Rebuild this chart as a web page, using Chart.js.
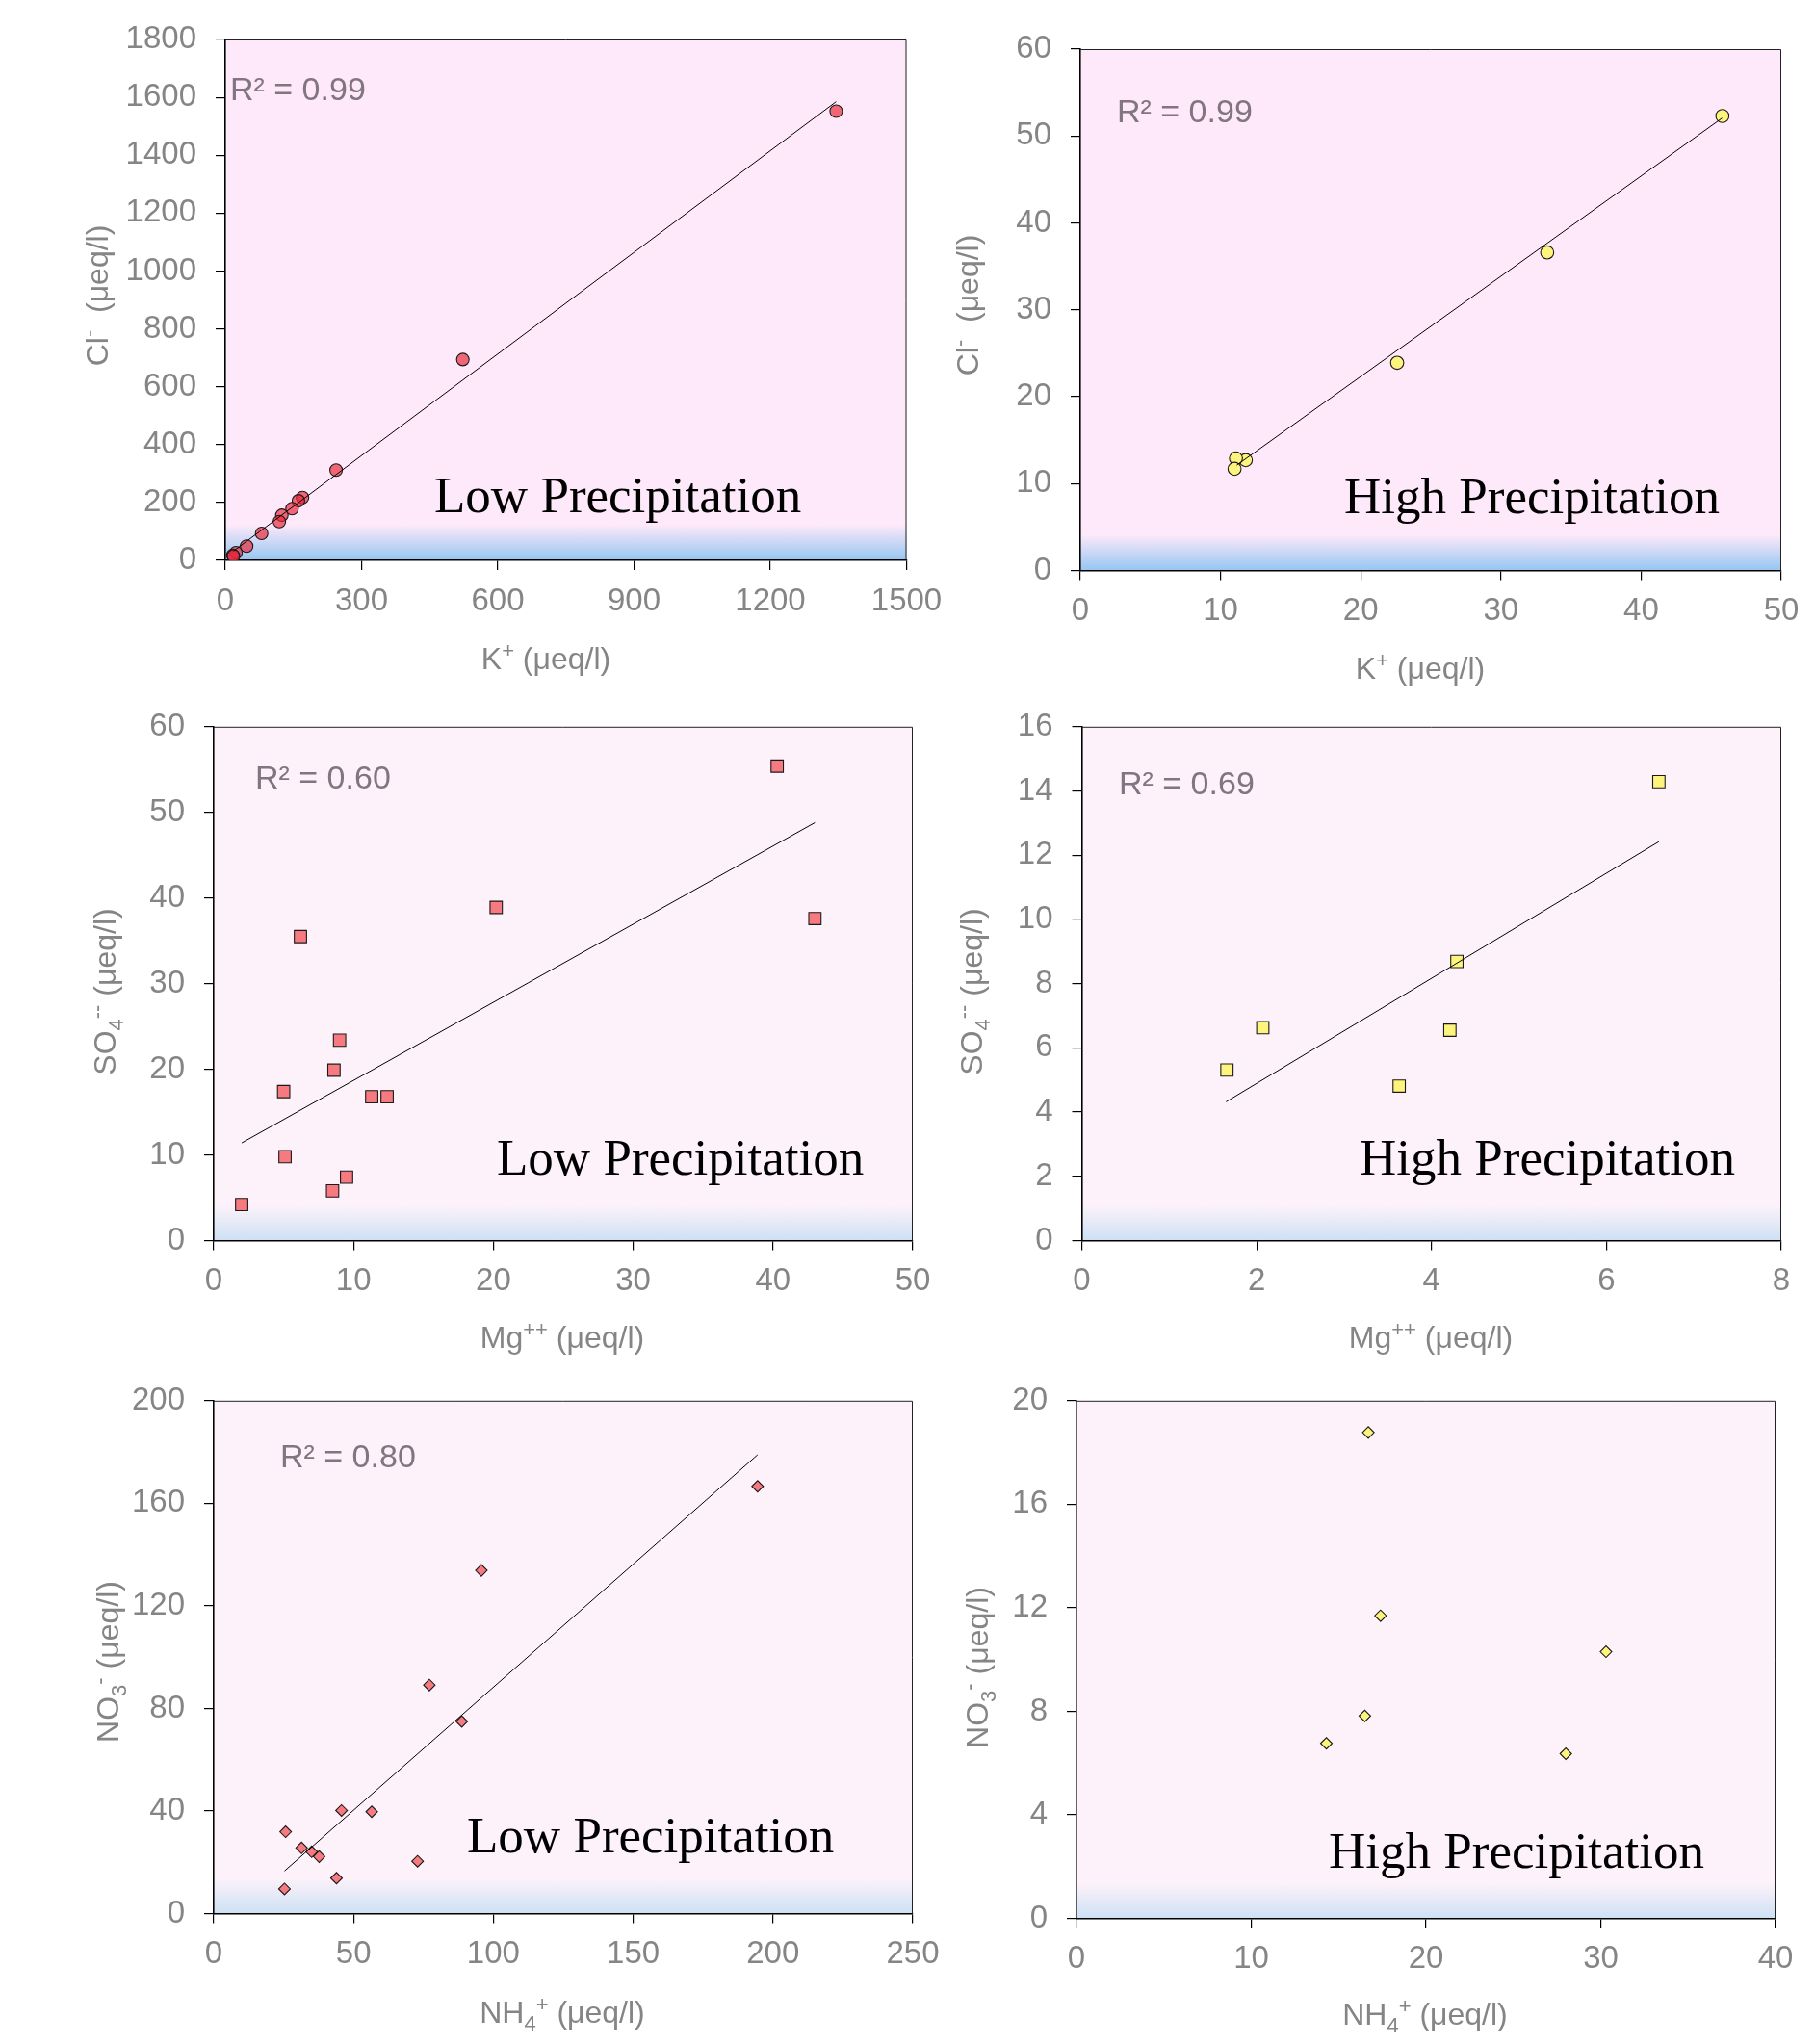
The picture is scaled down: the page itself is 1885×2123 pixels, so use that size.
<!DOCTYPE html>
<html>
<head>
<meta charset="utf-8">
<script src="https://cdn.jsdelivr.net/npm/chart.js@4.4.1/dist/chart.umd.min.js"></script>
<style>
    html, body { margin: 0; padding: 0; background: #ffffff; }
    #page { position: relative; width: 1885px; height: 2123px; overflow: hidden; }
    #page canvas { position: absolute; }
</style>
</head>
<body>
<div id="page"></div>
<script>
// ---- data ----
// Cl- vs K+, low precipitation
const lowKX = [1345, 523, 244, 170, 161, 147, 124.5, 119, 80, 47, 23.5, 16.5, 18];
const lowClY = [1552, 694, 312, 217, 206, 179, 156, 134, 93, 49, 26.5, 17.5, 15];
const lowKTrendX = [18, 1345];
const lowKTrendY = [32, 1585];

// Cl- vs K+, high precipitation
const highKX = [45.8, 33.3, 22.6, 11.8, 11.1, 11.0];
const highClY = [52.3, 36.6, 23.9, 12.7, 12.9, 11.7];
const highKTrendX = [11.16, 45.78];
const highKTrendY = [12.12, 52.06];

// SO4-- vs Mg++, low precipitation
const lowMgX = [40.3, 43.0, 20.2, 6.2, 9.0, 8.6, 5.0, 11.3, 12.4, 5.1, 9.5, 8.5, 2.0];
const lowSO4Y = [55.4, 37.6, 38.9, 35.5, 23.4, 19.9, 17.4, 16.8, 16.8, 9.8, 7.4, 5.8, 4.2];
const lowMgTrendX = [2.0, 43.0];
const lowMgTrendY = [11.4, 48.8];

// SO4-- vs Mg++, high precipitation
const highMgX = [6.60, 4.29, 2.07, 4.21, 1.66, 3.63];
const highSO4Y = [14.29, 8.69, 6.63, 6.55, 5.31, 4.81];
const highMgTrendX = [1.65, 6.60];
const highMgTrendY = [4.32, 12.42];

// NO3- vs NH4+, low precipitation
const lowNH4X = [194.5, 95.7, 77.1, 88.7, 45.7, 56.5, 25.7, 31.4, 35.0, 37.7, 72.9, 43.9, 25.3];
const lowNO3Y = [166.6, 133.8, 89.1, 74.9, 40.2, 39.7, 31.9, 25.6, 24.1, 22.2, 20.4, 13.8, 9.6];
const lowNH4TrendX = [25.3, 194.5];
const lowNH4TrendY = [16.6, 178.9];

// NO3- vs NH4+, high precipitation (no trend line)
const highNH4X = [16.7, 17.4, 30.3, 16.5, 14.3, 28.0];
const highNO3Y = [18.77, 11.69, 10.30, 7.82, 6.76, 6.36];

// axis ticks
const kLowTicks = [0, 300, 600, 900, 1200, 1500];
const clLowTicks = [0, 200, 400, 600, 800, 1000, 1200, 1400, 1600, 1800];
const kHighTicks = [0, 10, 20, 30, 40, 50];
const clHighTicks = [0, 10, 20, 30, 40, 50, 60];
const mgLowTicks = [0, 10, 20, 30, 40, 50];
const so4LowTicks = [0, 10, 20, 30, 40, 50, 60];
const mgHighTicks = [0, 2, 4, 6, 8];
const so4HighTicks = [0, 2, 4, 6, 8, 10, 12, 14, 16];
const nh4LowTicks = [0, 50, 100, 150, 200, 250];
const no3LowTicks = [0, 40, 80, 120, 160, 200];
const nh4HighTicks = [0, 10, 20, 30, 40];
const no3HighTicks = [0, 4, 8, 12, 16, 20];

// axis titles as [text, kind] runs ('' normal, 'sub', 'sup')
const kTitle = [['K', ''], ['+', 'sup'], [' (\u03BCeq/l)', '']];
const clTitle = [['Cl', ''], ['-', 'sup'], ['  (\u03BCeq/l)', '']];
const mgTitle = [['Mg', ''], ['++', 'sup'], [' (\u03BCeq/l)', '']];
const so4Title = [['SO', ''], ['4', 'sub'], ['--', 'sup'], [' (\u03BCeq/l)', '']];
const nh4Title = [['NH', ''], ['4', 'sub'], ['+', 'sup'], [' (\u03BCeq/l)', '']];
const no3Title = [['NO', ''], ['3', 'sub'], ['-', 'sup'], [' (\u03BCeq/l)', '']];

// ---- styling ----
const SANS = '"Liberation Sans", Arial, sans-serif';
const SERIF = '"Liberation Serif", "Times New Roman", serif';
const TICK_GREY = '#858585';
const TITLE_SIZE = 32;
const SCRIPT_SIZE = 22;

Chart.defaults.animation = false;

// draws a run list centred on (x, y), optionally rotated to read bottom-up
function drawRich(ctx, runs, x, y, rotated) {
    const fontFor = kind => (kind ? SCRIPT_SIZE : TITLE_SIZE) + 'px ' + SANS;
    let total = 0;
    runs.forEach(([t, kind]) => { ctx.font = fontFor(kind); total += ctx.measureText(t).width; });
    ctx.save();
    ctx.translate(x, y);
    if (rotated) ctx.rotate(-Math.PI / 2);
    ctx.textAlign = 'left';
    ctx.textBaseline = 'alphabetic';
    let pos = -total / 2;
    const base = 11;
    runs.forEach(([t, kind]) => {
        ctx.font = fontFor(kind);
        const shift = kind === 'sup' ? -12 : kind === 'sub' ? 8 : 0;
        ctx.fillText(t, pos, base + shift);
        pos += ctx.measureText(t).width;
    });
    ctx.restore();
}

// background, gradient band, frame, axis titles and text labels
const panelDecor = {
    id: 'panelDecor',
    beforeDraw(chart, args, opts) {
        const { ctx, chartArea: a } = chart;
        ctx.save();
        ctx.fillStyle = opts.bg;
        ctx.fillRect(a.left, a.top, a.right - a.left, a.bottom - a.top);
        const g = ctx.createLinearGradient(0, a.bottom - opts.band, 0, a.bottom);
        g.addColorStop(0, opts.bg);
        g.addColorStop(1, opts.blue);
        ctx.fillStyle = g;
        ctx.fillRect(a.left, a.bottom - opts.band, a.right - a.left, opts.band);
        ctx.restore();
    },
    afterDraw(chart, args, opts) {
        const { ctx, chartArea: a } = chart;
        const [ox, oy] = opts.origin;
        ctx.save();
        // top and right edges of the plot frame
        ctx.strokeStyle = '#222';
        ctx.lineWidth = 1;
        ctx.beginPath();
        ctx.moveTo(a.left, a.top + 0.5);
        ctx.lineTo(a.right - 0.5, a.top + 0.5);
        ctx.lineTo(a.right - 0.5, a.bottom);
        ctx.stroke();

        ctx.fillStyle = TICK_GREY;
        drawRich(ctx, opts.xTitle, opts.xTitlePos[0] - ox, opts.xTitlePos[1] - oy, false);
        drawRich(ctx, opts.yTitle, opts.yTitlePos[0] - ox, opts.yTitlePos[1] - oy, true);

        ctx.textBaseline = 'alphabetic';
        ctx.textAlign = 'left';
        if (opts.r2) {
            ctx.font = '34px ' + SANS;
            ctx.fillStyle = '#807580';
            ctx.fillText(opts.r2, opts.r2Pos[0] - ox, opts.r2Pos[1] - oy);
        }
        ctx.font = '53px ' + SERIF;
        ctx.fillStyle = '#000';
        ctx.fillText(opts.label, opts.labelPos[0] - ox, opts.labelPos[1] - oy);
        ctx.restore();
    }
};

function makePanel(p) {
    const [cx, cy, cw, ch] = p.box;
    const [L, T, R, B] = p.area;

    const canvas = document.createElement('canvas');
    canvas.width = cw;
    canvas.height = ch;
    canvas.style.left = cx + 'px';
    canvas.style.top = cy + 'px';
    document.getElementById('page').appendChild(canvas);

    const datasets = [{
        data: p.xs.map((x, i) => ({ x: x, y: p.ys[i] })),
        pointStyle: p.marker,
        pointRadius: p.radius,
        pointHoverRadius: p.radius,
        backgroundColor: p.fill,
        borderColor: '#1a1a1a',
        borderWidth: 1.1,
        showLine: false,
        order: 1
    }];
    if (p.trendX) {
        datasets.push({
            data: p.trendX.map((x, i) => ({ x: x, y: p.trendY[i] })),
            showLine: true,
            pointRadius: 0,
            borderColor: '#000',
            borderWidth: 1,
            fill: false,
            order: 0
        });
    }

    const axisCommon = {
        type: 'linear',
        grid: { drawOnChartArea: false, drawTicks: true, tickLength: 10, color: '#000', lineWidth: 1.2 },
        border: { display: true, color: '#000', width: 1.6 },
        title: { display: false }
    };
    const tickFont = { family: SANS, size: 33 };

    return new Chart(canvas.getContext('2d'), {
        type: 'scatter',
        data: { datasets: datasets },
        options: {
            responsive: false,
            events: [],
            layout: { padding: { left: 0, top: T - cy, right: cx + cw - R, bottom: 0 } },
            plugins: {
                legend: { display: false },
                tooltip: { enabled: false },
                panelDecor: {
                    bg: p.bg, blue: p.blue, band: 37,
                    origin: [cx, cy],
                    xTitle: p.xTitle, xTitlePos: p.xTitlePos,
                    yTitle: p.yTitle, yTitlePos: p.yTitlePos,
                    r2: p.r2, r2Pos: p.r2Pos,
                    label: p.label, labelPos: p.labelPos
                }
            },
            scales: {
                x: Object.assign({}, axisCommon, {
                    min: p.xTicks[0],
                    max: p.xTicks[p.xTicks.length - 1],
                    afterBuildTicks: s => { s.ticks = p.xTicks.map(v => ({ value: v })); },
                    afterFit: s => { s.height = cy + ch - B; },
                    ticks: {
                        color: TICK_GREY, font: tickFont, padding: 13, maxRotation: 0, autoSkip: false,
                        callback: v => String(v)
                    }
                }),
                y: Object.assign({}, axisCommon, {
                    min: p.yTicks[0],
                    max: p.yTicks[p.yTicks.length - 1],
                    afterBuildTicks: s => { s.ticks = p.yTicks.map(v => ({ value: v })); },
                    afterFit: s => { s.width = L - cx; },
                    ticks: {
                        color: TICK_GREY, font: tickFont, padding: 20, autoSkip: false,
                        callback: v => String(v)
                    }
                })
            }
        },
        plugins: [panelDecor]
    });
}

const PINK_TOP = '#fde9f9';
const PINK_LOW = '#fdf2fa';
const BLUE_TOP = '#96c6f2';
const BLUE_LOW = '#cde1f4';
const RED_ALPHA = 'rgba(232, 40, 58, 0.68)';
const RED = '#f77a80';
const YELLOW = '#fcf47c';

makePanel({
    box: [0, 0, 1010, 715], area: [234, 41, 941.5, 582],
    xs: lowKX, ys: lowClY, trendX: lowKTrendX, trendY: lowKTrendY,
    marker: 'circle', radius: 6.5, fill: RED_ALPHA,
    xTicks: kLowTicks, yTicks: clLowTicks,
    xTitle: kTitle, yTitle: clTitle,
    xTitlePos: [567, 684], yTitlePos: [101, 307],
    bg: PINK_TOP, blue: BLUE_TOP,
    r2: 'R\u00B2 = 0.99', r2Pos: [239, 104],
    label: 'Low Precipitation', labelPos: [451, 532]
});

makePanel({
    box: [975, 0, 910, 715], area: [1122, 51, 1850, 592.5],
    xs: highKX, ys: highClY, trendX: highKTrendX, trendY: highKTrendY,
    marker: 'circle', radius: 6.8, fill: YELLOW,
    xTicks: kHighTicks, yTicks: clHighTicks,
    xTitle: kTitle, yTitle: clTitle,
    xTitlePos: [1475, 694], yTitlePos: [1005, 317],
    bg: PINK_TOP, blue: BLUE_TOP,
    r2: 'R\u00B2 = 0.99', r2Pos: [1160, 127],
    label: 'High Precipitation', labelPos: [1396, 533]
});

makePanel({
    box: [0, 715, 1010, 700], area: [222, 748, 948, 1288.5],
    xs: lowMgX, ys: lowSO4Y, trendX: lowMgTrendX, trendY: lowMgTrendY,
    marker: 'rect', radius: 9, fill: RED,
    xTicks: mgLowTicks, yTicks: so4LowTicks,
    xTitle: mgTitle, yTitle: so4Title,
    xTitlePos: [584, 1389], yTitlePos: [109, 1030],
    bg: PINK_LOW, blue: BLUE_LOW,
    r2: 'R\u00B2 = 0.60', r2Pos: [265, 819],
    label: 'Low Precipitation', labelPos: [516, 1220]
});

makePanel({
    box: [975, 715, 910, 700], area: [1123.5, 748, 1850, 1288.5],
    xs: highMgX, ys: highSO4Y, trendX: highMgTrendX, trendY: highMgTrendY,
    marker: 'rect', radius: 9, fill: YELLOW,
    xTicks: mgHighTicks, yTicks: so4HighTicks,
    xTitle: mgTitle, yTitle: so4Title,
    xTitlePos: [1486, 1389], yTitlePos: [1009, 1030],
    bg: PINK_LOW, blue: BLUE_LOW,
    r2: 'R\u00B2 = 0.69', r2Pos: [1162, 825],
    label: 'High Precipitation', labelPos: [1412, 1220]
});

makePanel({
    box: [0, 1415, 1010, 708], area: [222, 1447, 948, 1987.5],
    xs: lowNH4X, ys: lowNO3Y, trendX: lowNH4TrendX, trendY: lowNH4TrendY,
    marker: 'rectRot', radius: 6, fill: RED,
    xTicks: nh4LowTicks, yTicks: no3LowTicks,
    xTitle: nh4Title, yTitle: no3Title,
    xTitlePos: [584, 2090], yTitlePos: [112, 1726],
    bg: PINK_LOW, blue: BLUE_LOW,
    r2: 'R\u00B2 = 0.80', r2Pos: [291, 1524],
    label: 'Low Precipitation', labelPos: [485, 1924]
});

makePanel({
    box: [975, 1415, 910, 708], area: [1118, 1453, 1844, 1992.5],
    xs: highNH4X, ys: highNO3Y,
    marker: 'rectRot', radius: 6, fill: YELLOW,
    xTicks: nh4HighTicks, yTicks: no3HighTicks,
    xTitle: nh4Title, yTitle: no3Title,
    xTitlePos: [1480, 2092], yTitlePos: [1015, 1732],
    bg: PINK_LOW, blue: BLUE_LOW,
    r2: null,
    label: 'High Precipitation', labelPos: [1380, 1940]
});
</script>
</body>
</html>
